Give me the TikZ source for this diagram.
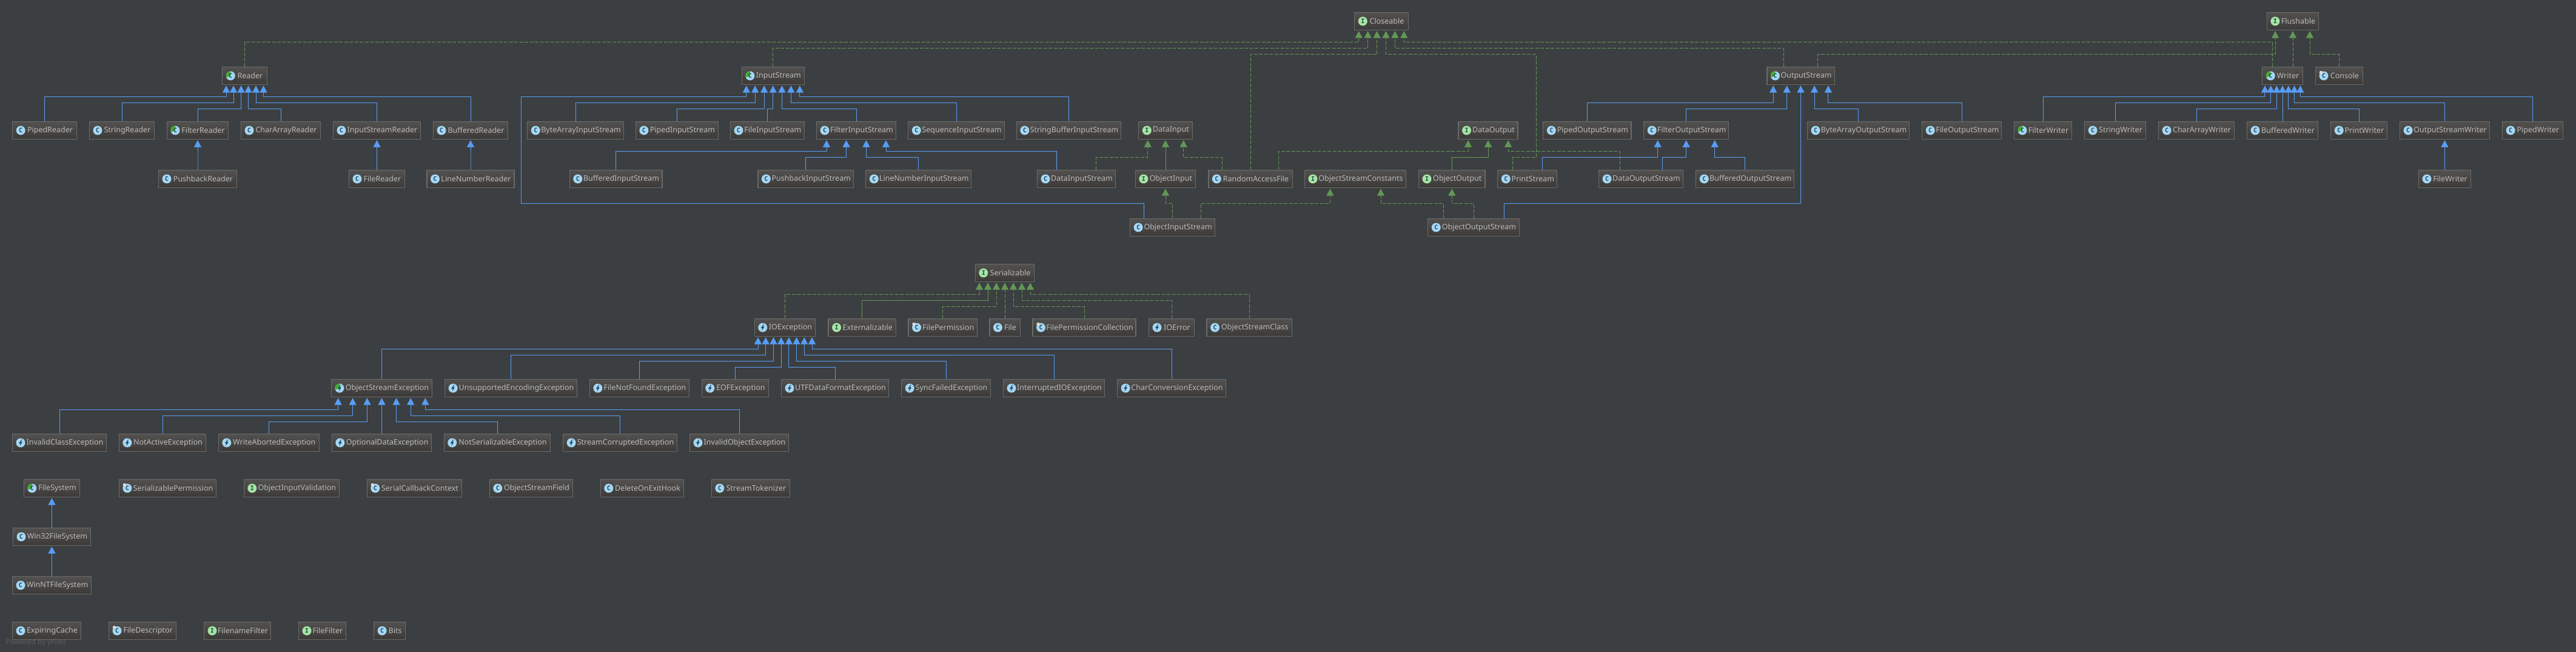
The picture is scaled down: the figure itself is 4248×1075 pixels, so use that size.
\documentclass[tikz,border=0pt]{standalone}
\usepackage{fontspec}
\setmainfont{Noto Sans}
\setmonofont{DejaVu Sans Mono}
\usetikzlibrary{arrows.meta}

\definecolor{canvas}{HTML}{3C3F41}
\definecolor{boxline}{HTML}{6A6A6A}
\definecolor{boxtop}{HTML}{525150}
\definecolor{boxbot}{HTML}{3C3A38}
\definecolor{boxtext}{HTML}{BBBBBB}
\definecolor{extblue}{HTML}{589DF6}
\definecolor{implgreen}{HTML}{629755}
\definecolor{iconblue}{HTML}{A3D8F6}
\definecolor{icongreen}{HTML}{A4E6A2}
\definecolor{iconwedge}{HTML}{3DAE2B}
\definecolor{iconink}{HTML}{2B4256}
\definecolor{yfilesgrey}{HTML}{5C5F61}

\begin{document}
\begin{tikzpicture}[x=1pt,y=-1pt,>={Triangle[length=11.5pt,width=12pt]},shorten >=1pt,
  umlbox/.style={draw=boxline,line width=1.3pt,top color=boxtop,bottom color=boxbot,minimum height=29pt,inner sep=0pt,text=boxtext,font=\fontsize{12.5}{15}\selectfont\hspace*{18pt}},
  icon/.style={circle,fill=iconblue,minimum width=15pt,minimum height=15pt,inner sep=0pt,text=iconink,font=\ttfamily\bfseries\fontsize{10}{10}\selectfont},
  wedgeicon/.style={icon,path picture={\fill[iconwedge] (path picture bounding box.center) -- (path picture bounding box.north) arc[start angle=90,end angle=200,radius=7.5pt] -- cycle;}},
  bolticon/.style={icon,path picture={\fill[iconink,shift={(path picture bounding box.center)}] (1.5,-5.5) -- (-3,1) -- (-0.3,1) -- (-1.5,5.5) -- (3,-1.5) -- (0.3,-1.5) -- (2.5,-5.5) -- cycle;}},
  wedgebolticon/.style={icon,path picture={\fill[iconwedge] (path picture bounding box.center) -- (path picture bounding box.north) arc[start angle=90,end angle=200,radius=7.5pt] -- cycle;
    \fill[iconink,shift={(path picture bounding box.center)}] (1.5,-5.5) -- (-3,1) -- (-0.3,1) -- (-1.5,5.5) -- (3,-1.5) -- (0.3,-1.5) -- (2.5,-5.5) -- cycle;}},
  classbox/.style={umlbox,path picture={\node[icon] (ic) at ([xshift=13.5pt]path picture bounding box.west) {C};}},
  ifacebox/.style={umlbox,path picture={\node[icon,fill=icongreen] (ic) at ([xshift=13.5pt]path picture bounding box.west) {I};}},
  absbox/.style={umlbox,path picture={\node[wedgeicon] (ic) at ([xshift=13.5pt]path picture bounding box.west) {C};}},
  lockbox/.style={umlbox,path picture={\node[icon] (ic) at ([xshift=13.5pt]path picture bounding box.west) {C};
    \fill[white!85!black] ([shift={(-4.5,-5.5)}]ic.center) circle (2.8pt);}},
  errbox/.style={umlbox,path picture={\node[bolticon] (ic) at ([xshift=13.5pt]path picture bounding box.west) {};}},
  abserrbox/.style={umlbox,path picture={\node[wedgebolticon] (ic) at ([xshift=13.5pt]path picture bounding box.west) {};}},
  extends/.style={->,draw=extblue,line width=1pt},
  implements/.style={->,draw=implgreen,line width=1pt,dash pattern=on 6pt off 2.5pt},
  subiface/.style={->,draw=implgreen,line width=1pt}]

  \fill[canvas] (0,0) rectangle (4248,1075);
  \useasboundingbox (0,0) rectangle (4248,1075);

  \node[ifacebox,minimum width=88.4pt] (closeable) at (2278,35) {Closeable};
  \node[ifacebox,minimum width=85.3pt] (flushable) at (3781,35) {Flushable};

  \node[absbox,minimum width=73.5pt] (reader) at (403.5,125) {Reader};
  \node[absbox,minimum width=102.8pt] (input) at (1274.8,125) {InputStream};
  \node[absbox,minimum width=111.3pt] (output) at (2969.5,125) {OutputStream};
  \node[absbox,minimum width=66.5pt] (writer) at (3764,125) {Writer};
  \node[lockbox,minimum width=77.8pt] (console) at (3857.4,125) {Console};

  \node[classbox,minimum width=105.6pt] (pipedreader) at (73.5,215) {PipedReader};
  \node[classbox,minimum width=107pt] (stringreader) at (201,215) {StringReader};
  \node[absbox,minimum width=101pt] (filterreader) at (326,215) {FilterReader};
  \node[classbox,minimum width=131pt] (chararrayreader) at (463,215) {CharArrayReader};
  \node[classbox,minimum width=144pt] (inreader) at (621.5,215) {InputStreamReader};
  \node[classbox,minimum width=123pt] (bufreader) at (776,215) {BufferedReader};
  \node[classbox,minimum width=158.5pt] (bytein) at (949,215) {ByteArrayInputStream};
  \node[classbox,minimum width=136pt] (pipedin) at (1116.4,215) {PipedInputStream};
  \node[classbox,minimum width=121.7pt] (filein) at (1265.3,215) {FileInputStream};
  \node[classbox,minimum width=131pt] (filterin) at (1412,215) {FilterInputStream};
  \node[classbox,minimum width=158.4pt] (seqin) at (1577,215) {SequenceInputStream};
  \node[classbox,minimum width=172.4pt] (strbufin) at (1762.5,215) {StringBufferInputStream};
  \node[ifacebox,minimum width=88.4pt] (datainput) at (1922,215) {DataInput};
  \node[ifacebox,minimum width=98pt] (dataoutput) at (2454,215) {DataOutput};
  \node[classbox,minimum width=145.2pt] (pipedout) at (2617.4,215) {PipedOutputStream};
  \node[classbox,minimum width=140pt] (filterout) at (2780.7,215) {FilterOutputStream};
  \node[classbox,minimum width=168pt] (byteout) at (3064.5,215) {ByteArrayOutputStream};
  \node[classbox,minimum width=131pt] (fileout) at (3235.2,215) {FileOutputStream};
  \node[absbox,minimum width=95pt] (filterwriter) at (3369,215) {FilterWriter};
  \node[classbox,minimum width=100.8pt] (stringwriter) at (3488,215) {StringWriter};
  \node[classbox,minimum width=124.8pt] (chararraywriter) at (3622,215) {CharArrayWriter};
  \node[classbox,minimum width=117pt] (bufwriter) at (3764,215) {BufferedWriter};
  \node[classbox,minimum width=92.7pt] (printwriter) at (3890,215) {PrintWriter};
  \node[classbox,minimum width=147.8pt] (outwriter) at (4031.5,215) {OutputStreamWriter};
  \node[classbox,minimum width=99.6pt] (pipedwriter) at (4176.4,215) {PipedWriter};

  \node[classbox,minimum width=129pt] (pushreader) at (326,295) {PushbackReader};
  \node[classbox,minimum width=92pt] (filereader) at (621.5,295) {FileReader};
  \node[classbox,minimum width=144pt] (linereader) at (776,295) {LineNumberReader};
  \node[classbox,minimum width=152.7pt] (bufin) at (1015.6,295) {BufferedInputStream};
  \node[classbox,minimum width=157.9pt] (pushin) at (1328.8,295) {PushbackInputStream};
  \node[classbox,minimum width=174pt] (linein) at (1514.8,295) {LineNumberInputStream};
  \node[classbox,minimum width=129pt] (datain) at (1775,295) {DataInputStream};
  \node[ifacebox,minimum width=99.3pt] (objinput) at (1922,295) {ObjectInput};
  \node[classbox,minimum width=138.3pt] (raf) at (2062,295) {RandomAccessFile};
  \node[ifacebox,minimum width=167pt] (constants) at (2235,295) {ObjectStreamConstants};
  \node[ifacebox,minimum width=109.6pt] (objoutput) at (2394.3,295) {ObjectOutput};
  \node[classbox,minimum width=98pt] (printstream) at (2518.8,295) {PrintStream};
  \node[classbox,minimum width=139pt] (dataout) at (2706,295) {DataOutputStream};
  \node[classbox,minimum width=161.8pt] (bufout) at (2877.7,295) {BufferedOutputStream};
  \node[classbox,minimum width=86pt] (filewriter) at (4031.5,295) {FileWriter};

  \node[classbox,minimum width=140pt] (objin) at (1933.6,375) {ObjectInputStream};
  \node[classbox,minimum width=150.4pt] (objout) at (2430,375) {ObjectOutputStream};

  \node[ifacebox,minimum width=97.5pt] (serial) at (1657,450) {Serializable};
  \node[errbox,minimum width=100.6pt] (ioex) at (1294.5,540) {IOException};
  \node[ifacebox,minimum width=111.5pt] (external) at (1421.8,540) {Externalizable};
  \node[lockbox,minimum width=113.3pt] (fileperm) at (1554.7,540) {FilePermission};
  \node[classbox,minimum width=50.3pt] (file) at (1657,540) {File};
  \node[lockbox,minimum width=170pt] (permcoll) at (1788,540) {FilePermissionCollection};
  \node[errbox,minimum width=75pt] (ioerror) at (1932,540) {IOError};
  \node[classbox,minimum width=140.6pt] (streamclass) at (2060.3,540) {ObjectStreamClass};

  \node[abserrbox,minimum width=166.2pt] (streamex) at (629.5,640) {ObjectStreamException};
  \node[errbox,minimum width=217.8pt] (unsupported) at (842.5,640) {UnsupportedEncodingException};
  \node[errbox,minimum width=164.3pt] (notfound) at (1054.5,640) {FileNotFoundException};
  \node[errbox,minimum width=110.3pt] (eof) at (1212.4,640) {EOFException};
  \node[errbox,minimum width=177pt] (utf) at (1377,640) {UTFDataFormatException};
  \node[errbox,minimum width=146.6pt] (syncfail) at (1560,640) {SyncFailedException};
  \node[errbox,minimum width=167pt] (interrupted) at (1738,640) {InterruptedIOException};
  \node[errbox,minimum width=178.7pt] (charconv) at (1932,640) {CharConversionException};

  \node[errbox,minimum width=155pt] (invalidclass) at (98,730) {InvalidClassException};
  \node[errbox,minimum width=143.3pt] (notactive) at (268,730) {NotActiveException};
  \node[errbox,minimum width=166pt] (aborted) at (443.3,730) {WriteAbortedException};
  \node[errbox,minimum width=164.4pt] (optdata) at (629.5,730) {OptionalDataException};
  \node[errbox,minimum width=175.5pt] (notserial) at (820,730) {NotSerializableException};
  \node[errbox,minimum width=188pt] (corrupted) at (1022.6,730) {StreamCorruptedException};
  \node[errbox,minimum width=163pt] (invalidobj) at (1219,730) {InvalidObjectException};

  \node[absbox,minimum width=92.4pt] (filesystem) at (85.5,805) {FileSystem};
  \node[classbox,minimum width=128pt] (win32) at (85.5,885) {Win32FileSystem};
  \node[classbox,minimum width=130pt] (winnt) at (85.5,965) {WinNTFileSystem};
  \node[lockbox,minimum width=160.3pt] (serialperm) at (276.5,805) {SerializablePermission};
  \node[ifacebox,minimum width=157pt] (validation) at (480.8,805) {ObjectInputValidation};
  \node[lockbox,minimum width=156.4pt] (callback) at (683.5,805) {SerialCallbackContext};
  \node[classbox,minimum width=137.5pt] (streamfield) at (876,805) {ObjectStreamField};
  \node[classbox,minimum width=137.5pt] (deletehook) at (1059,805) {DeleteOnExitHook};
  \node[classbox,minimum width=129.4pt] (tokenizer) at (1238,805) {StreamTokenizer};

  \node[classbox,minimum width=113pt] (expiring) at (77,1040) {ExpiringCache};
  \node[lockbox,minimum width=111pt] (filedesc) at (235,1040) {FileDescriptor};
  \node[ifacebox,minimum width=110pt] (namefilter) at (391.5,1040) {FilenameFilter};
  \node[ifacebox,minimum width=78pt] (filefilter) at (531.5,1040) {FileFilter};
  \node[classbox,minimum width=52pt] (bits) at (642.6,1040) {Bits};

  \node[text=yfilesgrey,font=\fontsize{12}{14}\selectfont,inner sep=0pt] (poweredby) at (59.5,1059) {Powered by yFiles};

  \foreach \kid/\kx/\by/\base/\bx in {
    pipedreader/0/160/reader/-30.5, stringreader/0/170/reader/-18.5, filterreader/0/180/reader/-6,
    chararrayreader/0/180/reader/6, inreader/0/170/reader/18.5, bufreader/0/160/reader/31,
    pushreader/0/255/filterreader/0, filereader/0/255/inreader/0, linereader/0/255/bufreader/0,
    bytein/0/170/input/-29.6, pipedin/0/180/input/-14.6, filein/0/180/input/0,
    filterin/0/180/input/14.6, seqin/0/170/input/29.6, strbufin/0/160/input/44,
    bufin/0/250/filterin/-49, pushin/0/260/filterin/-16.4, linein/0/260/filterin/16.4, datain/-32.5/250/filterin/49,
    pipedout/0/170/output/-45.3, filterout/0/180/output/-22.9, byteout/0/180/output/22.5, fileout/0/170/output/45.4,
    printstream/25/260/filterout/-47, dataout/35.6/260/filterout/0, bufout/0/260/filterout/47, objout/50/335/output/0,
    filterwriter/0/160/writer/-29.1, stringwriter/0/170/writer/-19.4, chararraywriter/0/180/writer/-9.7,
    bufwriter/0/180/writer/0, printwriter/0/180/writer/9.8, outwriter/0/170/writer/19.5, pipedwriter/0/160/writer/29.3,
    filewriter/0/255/outwriter/0,
    streamex/0/575/ioex/-44.5, unsupported/0/585/ioex/-31.8, notfound/0/595/ioex/-19, eof/0/605/ioex/-6.4,
    utf/0/605/ioex/6.4, syncfail/0/595/ioex/19, interrupted/0/585/ioex/31.8, charconv/0/575/ioex/44.5,
    invalidclass/0/675/streamex/-71.9, notactive/0/685/streamex/-47.9, aborted/0/695/streamex/-24,
    optdata/0/695/streamex/0, notserial/0/695/streamex/24, corrupted/0/685/streamex/47.7, invalidobj/0/675/streamex/71.9,
    win32/0/845/filesystem/0, winnt/0/925/win32/0}
    \draw[extends] ([xshift=\kx pt]\kid.north) -- ([xshift=\kx pt]\kid.north |- 0,\by) -| ([xshift=\bx pt]\base.south);

  \foreach \kid/\kx/\by/\base/\bx in {
    reader/0/70/closeable/-37.3, input/0/80/closeable/-22.4, raf/0/90/closeable/-7.4,
    output/-28/80/closeable/22.4, writer/-16.6/70/closeable/37.3,
    output/28/90/flushable/-29, writer/17/90/flushable/0, console/0/90/flushable/28,
    datain/32.3/260/datainput/-29.3, raf/-46.3/260/datainput/29.7,
    raf/46.7/250/dataoutput/-33, dataout/-34.4/250/dataoutput/33,
    objin/0/335/objinput/0, objin/47/335/constants/-41.6,
    objout/-50/335/constants/42, objout/0/335/objoutput/0,
    ioex/0/485/serial/-42, fileperm/0/505/serial/-14, file/0/505/serial/0,
    permcoll/0/505/serial/14, ioerror/0/495/serial/28, streamclass/0/485/serial/42}
    \draw[implements] ([xshift=\kx pt]\kid.north) -- ([xshift=\kx pt]\kid.north |- 0,\by) -| ([xshift=\bx pt]\base.south);

  \foreach \kid/\by/\base/\bx in {objinput/255/datainput/0, objoutput/260/dataoutput/0, external/495/serial/-28}
    \draw[subiface] (\kid.north) -- (\kid.north |- 0,\by) -| ([xshift=\bx pt]\base.south);

  \draw[extends] ([xshift=-47pt]objin.north) |- (859.5,335) -- (859.5,160) -| ([xshift=-44pt]input.south);
  \draw[implements] ([xshift=-24.4pt]printstream.north) |- (2533.4,260) -- (2533.4,90) -| ([xshift=7.5pt]closeable.south);
\end{tikzpicture}
\end{document}
